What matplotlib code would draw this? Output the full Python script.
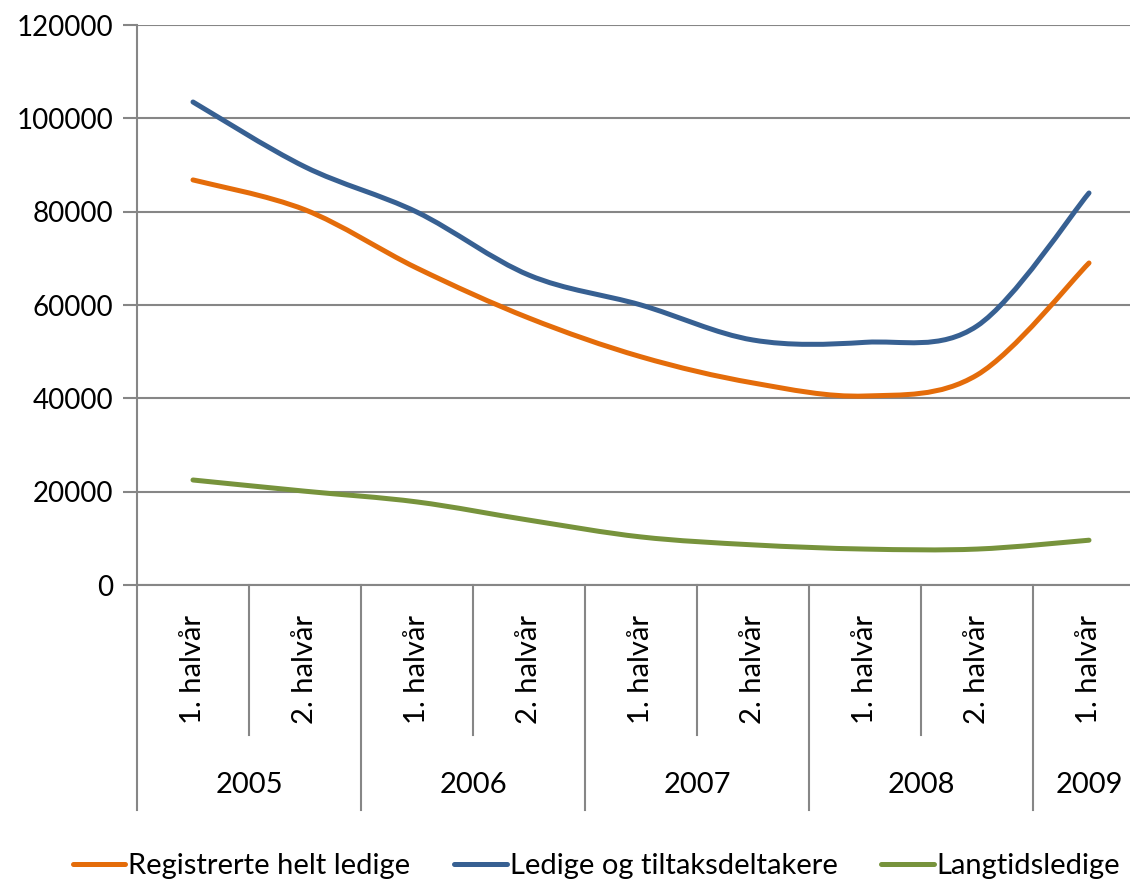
import numpy as np
import matplotlib.pyplot as plt
from matplotlib.path import Path
from matplotlib.patches import PathPatch
from matplotlib.lines import Line2D

plt.rcParams['font.family'] = ['Lato', 'DejaVu Sans']

halves = ['1. halvår', '2. halvår', '1. halvår', '2. halvår', '1. halvår',
          '2. halvår', '1. halvår', '2. halvår', '1. halvår']
years = ['2005', '2006', '2007', '2008', '2009']
year_spans = [(0, 2), (2, 4), (4, 6), (6, 8), (8, 9)]

registrerte = [86800, 80400, 67900, 57200, 48900, 43300, 40500, 45000, 69000]
ledige_tiltak = [103500, 89600, 79900, 66400, 60000, 52500, 52000, 55500, 84000]
langtid = [22500, 20100, 17800, 13900, 10300, 8600, 7700, 7700, 9600]

series = [
    ('Registrerte helt ledige', registrerte, '#E46C0A'),
    ('Ledige og tiltaksdeltakere', ledige_tiltak, '#376092'),
    ('Langtidsledige', langtid, '#77933C'),
]

GRID = '#868686'


def smooth_path(x, y):
    # Bezier smoothing like the spreadsheet "smoothed line" option
    pts = np.column_stack([x, y]).astype(float)
    n = len(pts)
    verts = [pts[0]]
    codes = [Path.MOVETO]
    for i in range(n - 1):
        p0 = pts[i - 1] if i > 0 else pts[i]
        p1 = pts[i]
        p2 = pts[i + 1]
        p3 = pts[i + 2] if i + 2 < n else pts[i + 1]
        c1 = p1 + (p2 - p0) / 6.0
        c2 = p2 - (p3 - p1) / 6.0
        verts += [c1, c2, p2]
        codes += [Path.CURVE4] * 3
    return Path(verts, codes)


fig = plt.figure(figsize=(11.3, 8.84), dpi=100)
W, H = 1130, 884
# plot area runs a little past the right edge of the picture
ax = fig.add_axes([137 / W, 1 - 585 / H, (1145 - 137) / W, (585 - 25) / H])

x = np.arange(len(halves))
for label, vals, color in series:
    patch = PathPatch(smooth_path(x, vals), facecolor='none', edgecolor=color,
                      lw=3.6, capstyle='round', joinstyle='round', zorder=3)
    ax.add_patch(patch)

ax.set_xlim(-0.5, len(halves) - 0.5)
ax.set_ylim(0, 120000)
ax.set_yticks(np.arange(0, 120001, 20000))
ax.yaxis.grid(True, color=GRID, lw=1.5)
ax.set_axisbelow(True)
ax.tick_params(axis='y', length=10, width=1.5, color=GRID, labelsize=20, pad=7)
ax.set_xticks([])
for s in ['top', 'right']:
    ax.spines[s].set_visible(False)
ax.spines['left'].set_color(GRID)
ax.spines['left'].set_linewidth(1.5)
ax.spines['bottom'].set_color(GRID)
ax.spines['bottom'].set_linewidth(1.5)

# multi-level category axis
tr = ax.get_xaxis_transform()
ax_h = 560.0
y_half = -150 / ax_h
y_year = -225 / ax_h
for i, h in enumerate(halves):
    ax.text(i, -84 / ax_h, h, transform=tr, rotation=90, ha='center',
            va='center', fontsize=21)
for b in range(1, len(halves)):
    bottom = y_year if any(b == s for s, e in year_spans) else y_half
    ax.plot([b - 0.5, b - 0.5], [0, bottom], transform=tr, color=GRID,
            lw=1.5, clip_on=False)
ax.plot([-0.5, -0.5], [0, y_year], transform=tr, color=GRID, lw=1.5,
        clip_on=False)
for yr, (s, e) in zip(years, year_spans):
    ax.text((s + e - 1) / 2, -200 / ax_h, yr, transform=tr, ha='center',
            va='center', fontsize=21)

handles = [Line2D([], [], color=c, lw=3.6, solid_capstyle='round')
           for _, _, c in series]
fig.legend(handles, [s[0] for s in series], loc='center',
           bbox_to_anchor=(0.528, 1 - 866 / H), ncol=3, frameon=False,
           fontsize=21, handlelength=1.8, handletextpad=0.1,
           columnspacing=1.5)

fig.savefig('out.png', dpi=100)
